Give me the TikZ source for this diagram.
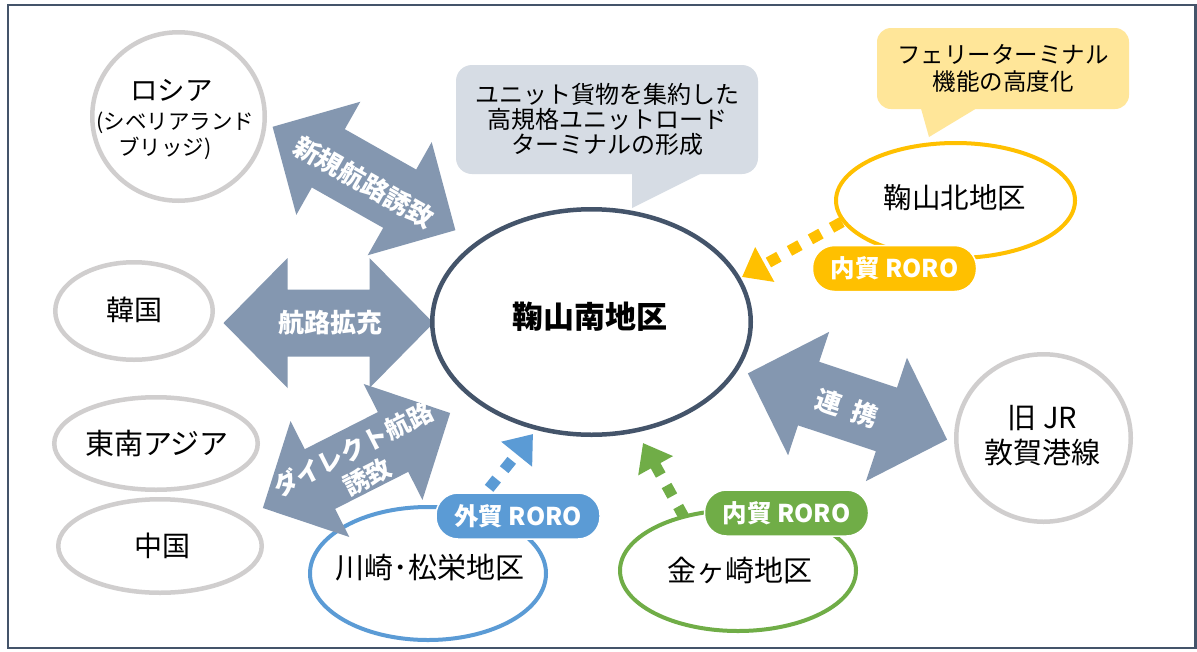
\documentclass[tikz,border=0pt]{standalone}
\usepackage{fontspec}
\setmainfont{Noto Sans CJK JP}
\usetikzlibrary{shapes.geometric,arrows.meta}
\definecolor{framec}{HTML}{44546A}
\definecolor{ringgray}{HTML}{D0CECE}
\definecolor{hubline}{HTML}{44546A}
\definecolor{gold}{HTML}{FFC000}
\definecolor{goldlight}{HTML}{FFE699}
\definecolor{calloutgray}{HTML}{D6DCE4}
\definecolor{blueline}{HTML}{5B9BD5}
\definecolor{greenline}{HTML}{70AD47}
\definecolor{arrowfill}{HTML}{8497B0}
\tikzset{
  ring/.style={ellipse, draw=ringgray, line width=4.5pt, fill=white, inner sep=0pt},
  hubring/.style={ellipse, draw=hubline, line width=4.5pt, fill=white, inner sep=0pt},
  lbl/.style={inner sep=0pt, align=center, text=black, font=\fontsize{#1}{#1}\selectfont},
  arrowtxt/.style={inner sep=0pt, align=center, text=white, font=\bfseries\fontsize{26}{31}\selectfont},
  pill/.style={rectangle, rounded corners=22pt, minimum width=164pt, minimum height=46pt, inner sep=0pt, text=white, font=\bfseries\fontsize{24.5}{26}\selectfont, draw=white, line width=1.5pt},
  callbox/.style={rectangle, inner sep=0pt, align=center},
  dots/.style={line width=11pt, dash pattern=on 12pt off 12pt, -{Triangle[length=26pt,width=38pt]}},
  bigarrow/.style={fill=arrowfill},
}
\newcommand\ShipArrow[2]{%
  \begin{scope}[shift={#1},rotate=#2]
    \fill[bigarrow] (-105,0) -- (-41,65) -- (-41,33.5) -- (41,33.5) -- (41,65) -- (105,0)
      -- (41,-65) -- (41,-33.5) -- (-41,-33.5) -- (-41,-65) -- cycle;
  \end{scope}}
\begin{document}
\begin{tikzpicture}[x=1pt,y=-1pt]
\useasboundingbox (0,0) rectangle (1197,651);
\fill[white] (0,0) rectangle (1197,651);

% callouts
\node[callbox, fill=calloutgray, rounded corners=16pt, minimum width=302pt, minimum height=109pt,
  font=\fontsize{24}{25}\selectfont] (cg) at (607,119.5)
  {ユニット貨物を集約した\\高規格ユニットロード\\ターミナルの形成};
\fill[calloutgray] (632,170) -- (708,170) -- (632,208) -- cycle;
\node[callbox, fill=goldlight, rounded corners=14pt, minimum width=252pt, minimum height=81pt,
  font=\fontsize{23.5}{27}\selectfont] (cy) at (1003,68.5)
  {フェリーターミナル\\機能の高度化};
\fill[goldlight] (920,105) -- (982,105) -- (929,137) -- cycle;

% rings
\node[ring, minimum width=172.5pt, minimum height=168.5pt] (russia) at (178.5,116.5) {};
\node[ring, minimum width=157.5pt, minimum height=97.5pt] (korea) at (134,311) {};
\node[ring, minimum width=203.5pt, minimum height=92.5pt] (sea) at (156,443.5) {};
\node[ring, minimum width=203.5pt, minimum height=93.5pt] (china) at (160,546) {};
\node[ring, minimum width=174.5pt, minimum height=167.5pt] (jr) at (1043.5,438) {};
\node[ring, draw=gold, line width=4pt, minimum width=239pt, minimum height=115pt] (north) at (955.5,200.5) {};
\node[ring, draw=blueline, line width=4pt, minimum width=236pt, minimum height=133pt] (kawasaki) at (428,573.5) {};
\node[ring, draw=greenline, line width=4pt, minimum width=236pt, minimum height=121pt] (kanega) at (738,570.5) {};

% big double arrows
\ShipArrow{(364,178.5)}{-29.5}
\ShipArrow{(328.5,323)}{0}
\ShipArrow{(356.5,460.5)}{26.9}
\ShipArrow{(847.5,406.5)}{-18.4}

% hub
\node[hubring, minimum width=318.5pt, minimum height=225.5pt] (hub) at (591.5,322) {};

% dotted RORO connectors
\coordinate (gS) at (842,222); \coordinate (gT) at (742,277);
\coordinate (bS) at (474,507); \coordinate (bT) at (533,434);
\coordinate (kS) at (684,517); \coordinate (kT) at (643,443);
\draw[dots, draw=gold] (gS) -- (gT);
\draw[dots, draw=blueline] (bS) -- (bT);
\draw[dots, draw=greenline] (kS) -- (kT);

% pills
\node[pill, fill=gold] (pN) at (894.5,268.5) {内貿 RORO};
\node[pill, fill=blueline] (pG) at (518,516) {外貿 RORO};
\node[pill, fill=greenline] (pK) at (786.5,513) {内貿 RORO};

% labels
\node[lbl=27.5] (ruA) at (171.5,90) {ロシア};
\node[lbl=21.5] (ruB) at (175.5,123) {(シベリアランド};
\node[lbl=21.5] (ruC) at (165,148) {ブリッジ)};
\node[lbl=28] (krT) at (134,310) {韓国};
\node[lbl=29] (seaT) at (157,443) {東南アジア};
\node[lbl=28] (cnT) at (162,546) {中国};
\node[inner sep=0pt, align=center, font=\fontsize{29}{35}\selectfont] (jrT) at (1042.5,435.5) {旧 JR\\敦賀港線};
\node[lbl=28.5] (northT) at (955,198) {鞠山北地区};
\node[inner sep=0pt, font=\bfseries\fontsize{31}{31}\selectfont] (hubT) at (590,317) {鞠山南地区};
\node[lbl=29] (kawT) at (430,568) {川崎･松栄地区};
\node[lbl=29] (kanT) at (740,570) {金ヶ崎地区};

\node[arrowtxt, rotate=-29.5] (a1T) at (364,182) {新規航路誘致};
\node[arrowtxt] (a2T) at (330,323) {航路拡充};
\node[arrowtxt, rotate=26.9, font=\bfseries\fontsize{25}{31}\selectfont] (a3T) at (360,463) {ダイレクト航路\\誘致};
\node[arrowtxt, rotate=-18.4] (a4T) at (847,408) {連\hspace{0.45em}携};

% frame
\draw[framec, line width=2.5pt] (8,5) rectangle (1195.5,648);
\end{tikzpicture}
\end{document}
